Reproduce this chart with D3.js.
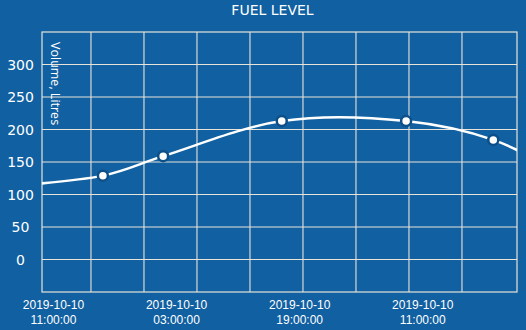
<!DOCTYPE html>
<html>
<head>
<meta charset="utf-8">
<script src="https://cdn.jsdelivr.net/npm/d3@7"></script>
<style>
  html, body { margin: 0; padding: 0; background: #1160a1; }
  svg { display: block; }
</style>
</head>
<body>
<svg id="chart" width="526" height="330"></svg>
<script>
// Fuel readings: timestamps and volume in litres
const readingTimes = [
  "2019-10-10T01:40:00", "2019-10-10T17:25:00", "2019-10-11T01:15:00",
  "2019-10-11T16:40:00", "2019-10-12T08:50:00", "2019-10-12T20:10:00",
  "2019-10-13T04:30:00"
];
const fuelLitres = [110, 129, 159, 213, 213, 184, 135];

// Y axis ticks
const yTicks = [0, 50, 100, 150, 200, 250, 300];

// X axis labels (two lines each) and the moments they sit at
const xLabelTimes = ["2019-10-10T11:00:00", "2019-10-11T03:00:00", "2019-10-11T19:00:00", "2019-10-12T11:00:00"];
const xLabelDates = ["2019-10-10", "2019-10-10", "2019-10-10", "2019-10-10"];
const xLabelClock = ["11:00:00", "03:00:00", "19:00:00", "11:00:00"];

const title = "FUEL LEVEL";
const yTitle = "Volume, Litres";

const W = 526, H = 330;
const m = { top: 32, right: 9, bottom: 38, left: 42 };
const parse = d3.isoParse;

const svg = d3.select("#chart");
const bg = "#1160a1", gridColor = "#e8e4da";

svg.append("rect").attr("width", W).attr("height", H).attr("fill", bg);

const x = d3.scaleTime()
  .domain([parse("2019-10-10T09:30:00"), parse("2019-10-12T23:15:00")])
  .range([m.left, W - m.right]);
const y = d3.scaleLinear()
  .domain([-50, 350])
  .range([H - m.bottom, m.top]);

// vertical grid: regular time steps across the plot
const gridStart = parse("2019-10-10T15:52:00").getTime();
const gridStepMs = 6.89 * 3600 * 1000;
const vGrid = d3.range(gridStart, x.domain()[1].getTime() - 3600 * 1000, gridStepMs);

const g = svg.append("g");

g.selectAll("line.v").data(vGrid).join("line")
  .attr("class", "v")
  .attr("x1", d => x(d)).attr("x2", d => x(d))
  .attr("y1", m.top).attr("y2", H - m.bottom)
  .attr("stroke", gridColor).attr("stroke-width", 1.1);

g.selectAll("line.h").data(yTicks).join("line")
  .attr("class", "h")
  .attr("x1", m.left).attr("x2", W - m.right)
  .attr("y1", d => y(d)).attr("y2", d => y(d))
  .attr("stroke", gridColor).attr("stroke-width", 1.1);

g.append("rect")
  .attr("x", m.left).attr("y", m.top)
  .attr("width", W - m.left - m.right).attr("height", H - m.top - m.bottom)
  .attr("fill", "none").attr("stroke", gridColor).attr("stroke-width", 1.2);

// Y tick labels
svg.selectAll("text.ytick").data(yTicks).join("text")
  .attr("class", "ytick")
  .attr("x", 20.5).attr("y", d => y(d))
  .attr("dy", "0.36em")
  .attr("text-anchor", "middle")
  .attr("fill", "#ffffff")
  .style("font-family", "'DejaVu Sans', sans-serif")
  .style("font-size", "14px")
  .text(d => d);

// Y axis title, rotated inside the plot
svg.append("text")
  .attr("transform", `translate(51,${m.top + 10}) rotate(90)`)
  .attr("fill", "#ffffff")
  .style("font-family", "'Open Sans', sans-serif")
  .style("font-size", "12.5px")
  .text(yTitle);

// X labels: date line and clock line
const xLabelStyle = sel => sel
  .attr("text-anchor", "middle")
  .attr("fill", "#ffffff")
  .style("font-family", "'Liberation Sans', Arial, sans-serif")
  .style("font-size", "12px");

svg.selectAll("text.xdate").data(xLabelTimes).join("text")
  .attr("class", "xdate")
  .call(xLabelStyle)
  .attr("x", d => x(parse(d))).attr("y", 309)
  .text((d, i) => xLabelDates[i]);

svg.selectAll("text.xclock").data(xLabelTimes).join("text")
  .attr("class", "xclock")
  .call(xLabelStyle)
  .attr("x", d => x(parse(d))).attr("y", 324)
  .text((d, i) => xLabelClock[i]);

// Title
svg.append("text")
  .attr("x", 272.5).attr("y", 15)
  .attr("text-anchor", "middle")
  .attr("fill", "#ffffff")
  .style("font-family", "'DejaVu Sans', sans-serif")
  .style("font-size", "14px")
  .text(title);

// Clip series to plot area
svg.append("clipPath").attr("id", "plotClip")
  .append("rect")
  .attr("x", m.left).attr("y", m.top)
  .attr("width", W - m.left - m.right).attr("height", H - m.top - m.bottom);

const data = readingTimes.map((t, i) => ({ t: parse(t), v: fuelLitres[i] }));

const line = d3.line()
  .x(d => x(d.t)).y(d => y(d.v))
  .curve(d3.curveCatmullRom.alpha(0.5));

const series = svg.append("g").attr("clip-path", "url(#plotClip)");

series.append("path")
  .datum(data)
  .attr("d", line)
  .attr("fill", "none")
  .attr("stroke", "#ffffff")
  .attr("stroke-width", 2.5);

series.selectAll("circle").data(data).join("circle")
  .attr("cx", d => x(d.t)).attr("cy", d => y(d.v))
  .attr("r", 5)
  .attr("fill", "#ffffff")
  .attr("stroke", "#0d4f88")
  .attr("stroke-width", 2.5);
</script>
</body>
</html>
